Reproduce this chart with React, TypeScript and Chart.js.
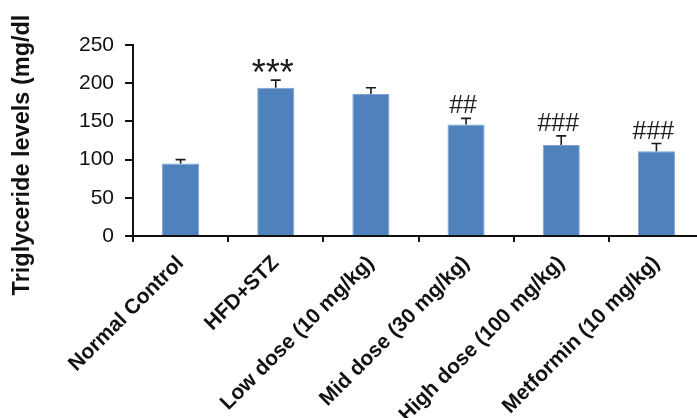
import React, { useEffect, useRef } from "react";
import { Chart, registerables } from "chart.js";

Chart.register(...registerables);

const categories = [
  "Normal Control",
  "HFD+STZ",
  "Low dose (10 mg/kg)",
  "Mid dose (30 mg/kg)",
  "High dose (100 mg/kg)",
  "Metformin (10 mg/kg)",
];
const values = [95, 194, 186, 146, 119, 111];
const errors = [5, 10, 8, 8, 12, 10];
const marks = ["", "***", "", "##", "###", "###"];
const yTicks = [0, 50, 100, 150, 200, 250];
const yTitle = "Triglyceride levels (mg/dl";

const FONT = "'Liberation Sans', Arial, Helvetica, sans-serif";

const errorBarPlugin = {
  id: "errorBars",
  afterDatasetsDraw(chart: any) {
    const meta = chart.getDatasetMeta(0);
    const yScale = chart.scales.y;
    const ctx = chart.ctx;
    ctx.save();
    meta.data.forEach((bar: any, i: number) => {
      const x = bar.x;
      const yVal = yScale.getPixelForValue(values[i]);
      const yTop = yScale.getPixelForValue(values[i] + errors[i]);
      ctx.strokeStyle = "#1a1a1a";
      ctx.lineWidth = 1.6;
      ctx.beginPath();
      ctx.moveTo(x, yVal);
      ctx.lineTo(x, yTop);
      ctx.moveTo(x - 5, yTop);
      ctx.lineTo(x + 5, yTop);
      ctx.stroke();
      const m = marks[i];
      if (m) {
        const isStar = m.indexOf("*") >= 0;
        ctx.font = isStar ? `36px ${FONT}` : `25px ${FONT}`;
        ctx.fillStyle = "#1a1a1a";
        ctx.textAlign = "center";
        ctx.textBaseline = "alphabetic";
        const mt = ctx.measureText(m);
        const desc = mt.actualBoundingBoxDescent || 0;
        const gap = isStar ? 7 : 5;
        ctx.fillText(m, x - 3, yTop - gap - desc);
      }
    });
    ctx.restore();
  },
};

const yTitlePlugin = {
  id: "yTitle",
  afterDraw(chart: any) {
    const ctx = chart.ctx;
    ctx.save();
    ctx.translate(23, 155);
    ctx.rotate(-Math.PI / 2);
    ctx.font = `bold 23.5px ${FONT}`;
    ctx.fillStyle = "#111";
    ctx.textAlign = "center";
    ctx.textBaseline = "middle";
    ctx.fillText(yTitle, 0, 0);
    ctx.restore();
  },
};

export default function App() {
  const ref = useRef<HTMLCanvasElement>(null);
  useEffect(() => {
    if (!ref.current) return;
    const chart = new Chart(ref.current, {
      type: "bar",
      data: {
        labels: categories,
        datasets: [
          {
            data: values,
            backgroundColor: "#4f81bd",
            borderColor: "#7ea3d3",
            borderWidth: 1,
            barPercentage: 0.39,
            categoryPercentage: 1,
          },
        ],
      },
      options: {
        responsive: false,
        animation: false,
        devicePixelRatio: 1,
        layout: { padding: { top: 45, right: 0, left: 0, bottom: 0 } },
        plugins: { legend: { display: false }, tooltip: { enabled: false } },
        scales: {
          x: {
            offset: true,
            grid: {
              display: true,
              drawOnChartArea: false,
              drawTicks: true,
              tickLength: 6,
              color: "#111",
              lineWidth: 2,
              offset: true,
            },
            border: { display: true, color: "#111", width: 2 },
            ticks: {
              minRotation: 45,
              maxRotation: 45,
              padding: 9,
              color: "#111",
              font: { family: FONT, size: 21, weight: "bold" },
            },
            afterFit(scale: any) {
              scale.height = 182;
            },
          },
          y: {
            min: 0,
            max: 250,
            afterBuildTicks(scale: any) {
              scale.ticks = yTicks.map((v) => ({ value: v }));
            },
            grid: {
              display: true,
              drawOnChartArea: false,
              drawTicks: true,
              tickLength: 8,
              color: "#111",
              lineWidth: 2,
            },
            border: { display: true, color: "#111", width: 2 },
            ticks: {
              padding: 11,
              color: "#111",
              font: { family: FONT, size: 21 },
            },
            afterFit(scale: any) {
              scale.width = 133;
            },
          },
        },
      },
      plugins: [errorBarPlugin, yTitlePlugin],
    });
    return () => chart.destroy();
  }, []);
  return (
    <div
      style={{
        position: "fixed",
        left: 0,
        top: 0,
        width: 697,
        height: 418,
        overflow: "hidden",
        background: "#fff",
      }}
    >
      <canvas ref={ref} width={704} height={418} style={{ width: 704, height: 418 }} />
    </div>
  );
}
